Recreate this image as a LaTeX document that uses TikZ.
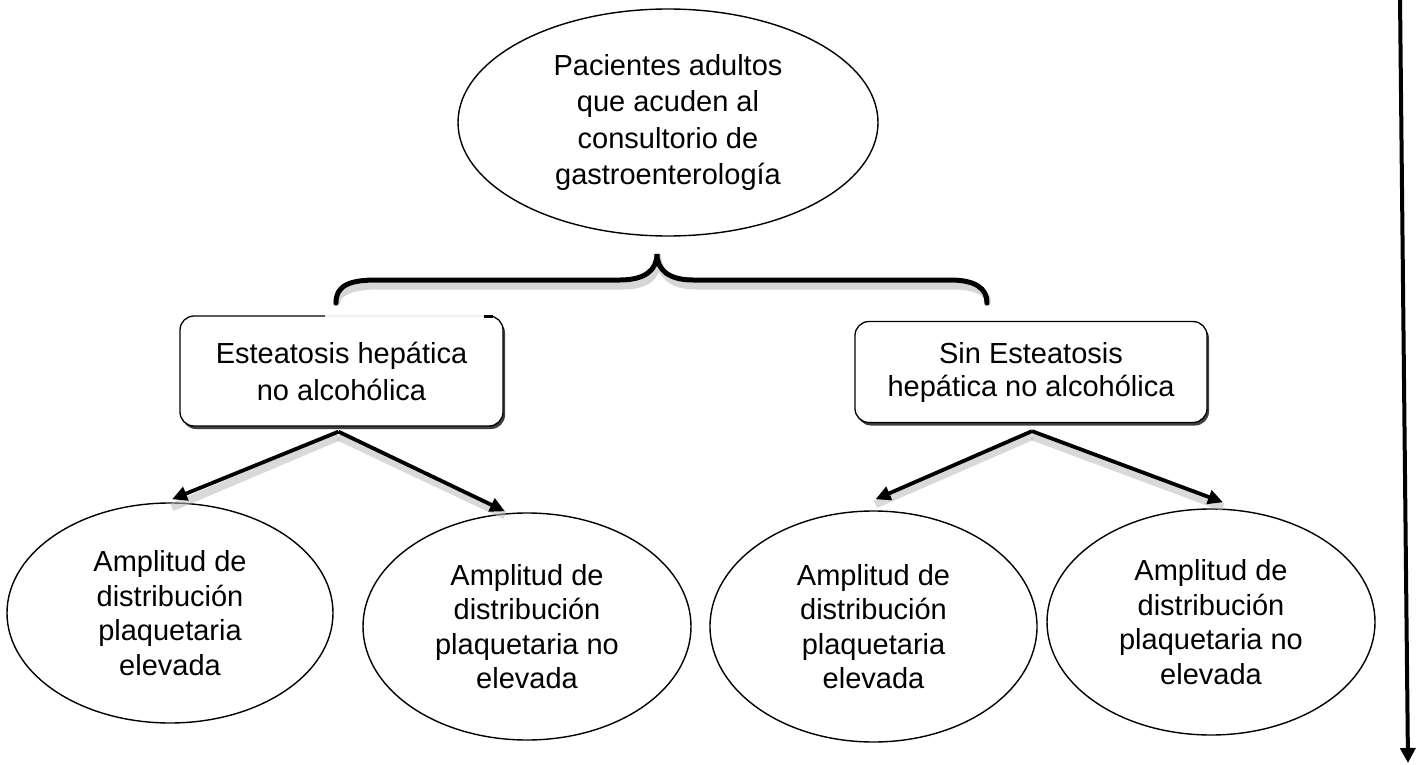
\documentclass[tikz,border=0pt]{standalone}
\usepackage{fontspec}
\setmainfont{Liberation Sans}
\usetikzlibrary{shapes.geometric,arrows.meta,shadows}
\begin{document}
\begin{tikzpicture}[x=1pt,y=-1pt,
 ell/.style={draw, ellipse, line width=1.4pt, inner sep=0pt, align=center, font=\fontsize{29}{34.5}\selectfont},
 box/.style={draw, rounded corners=14pt, line width=1.3pt, inner sep=0pt, align=center, fill=white,
   drop shadow={shadow xshift=2pt, shadow yshift=-3pt, opacity=0.75, fill=black}},
 arr/.style={line width=3.8pt, -{Triangle[length=15pt,width=14pt]}},
 arrshadow/.style={line width=8pt, gray!55, opacity=0.55},
 bracestyle/.style={line width=5pt, line cap=round},
 braceshadow/.style={line width=7pt, gray!40, opacity=0.8, line cap=round},
]
\useasboundingbox (0,0) rectangle (1424,765);

% top ellipse
\node[ell, minimum width=420pt, minimum height=227pt, font=\fontsize{29}{36.5}\selectfont] (top) at (668,122.5)
  {Pacientes adultos\\que acuden al\\consultorio de\\gastroenterología};

% brace
\coordinate (bl) at (336,303);
\coordinate (bp) at (657,254);
\coordinate (br) at (987,303);
\draw[braceshadow, shift={(3,6)}] (bl) .. controls (336,285) and (350,280) .. (377,280) -- (620,280)
  .. controls (645,280) and (657,270) .. (bp) .. controls (657,270) and (669,280) .. (693,280)
  -- (950,280) .. controls (975,280) and (987,288) .. (br);
\draw[bracestyle] (bl) .. controls (336,285) and (350,280) .. (377,280) -- (620,280)
  .. controls (645,280) and (657,270) .. (bp) .. controls (657,270) and (669,280) .. (693,280)
  -- (950,280) .. controls (975,280) and (987,288) .. (br);

% boxes
\node[box, minimum width=323pt, minimum height=110pt, font=\fontsize{29}{37}\selectfont] (lbox) at (341.5,371)
  {Esteatosis hepática\\no alcohólica};
\node[box, minimum width=352pt, minimum height=101pt, font=\fontsize{29}{33}\selectfont] (rbox) at (1031,372)
  {Sin Esteatosis\\hepática no alcohólica};
% faded top edge of the left box
\draw[white, line width=3pt] (325,316) -- (484,316);
\draw[gray!12, line width=1.3pt] (325,316) -- (484,316);
\draw[line width=2.5pt] (484,316.5) -- (493,316.5);

% bottom ellipses
\node[ell, minimum width=326pt, minimum height=220pt] (e1) at (170,613)
  {Amplitud de\\distribución\\plaquetaria\\elevada};
\node[ell, minimum width=328pt, minimum height=227pt] (e2) at (527,626.5)
  {Amplitud de\\distribución\\plaquetaria no\\elevada};
\node[ell, minimum width=327pt, minimum height=231pt] (e3) at (873.5,626.5)
  {Amplitud de\\distribución\\plaquetaria\\elevada};
\node[ell, minimum width=328pt, minimum height=226pt] (e4) at (1211,622)
  {Amplitud de\\distribución\\plaquetaria no\\elevada};

% arrow shadows
\draw[arrshadow] ([xshift=-3pt,yshift=-10pt]lbox.south) -- ([xshift=2pt,yshift=-5pt]e1.north);
\draw[arrshadow] ([xshift=-3pt,yshift=-10pt]lbox.south) -- ([xshift=-22pt,yshift=-3pt]e2.north);
\draw[arrshadow] ([xshift=1pt,yshift=-13pt]rbox.south) -- ([xshift=2pt,yshift=6pt]e3.north);
\draw[arrshadow] ([xshift=1pt,yshift=-13pt]rbox.south) -- ([xshift=12pt,yshift=1pt]e4.north);

% arrows
\draw[arr] ([xshift=-3pt,yshift=-5pt]lbox.south) -- ([xshift=2pt,yshift=3pt]e1.north);
\draw[arr] ([xshift=-3pt,yshift=-5pt]lbox.south) -- ([xshift=-22pt,yshift=1pt]e2.north);
\draw[arr] ([xshift=1pt,yshift=-8pt]rbox.south) -- ([xshift=2pt,yshift=11pt]e3.north);
\draw[arr] ([xshift=1pt,yshift=-8pt]rbox.south) -- ([xshift=12pt,yshift=6pt]e4.north);

% right vertical arrow
\coordinate (vt) at (1400,-2);
\coordinate (vb) at (1408,763);
\draw[line width=4pt, -{Triangle[length=15pt,width=15pt]}] (vt) -- (vb);
\end{tikzpicture}
\end{document}
